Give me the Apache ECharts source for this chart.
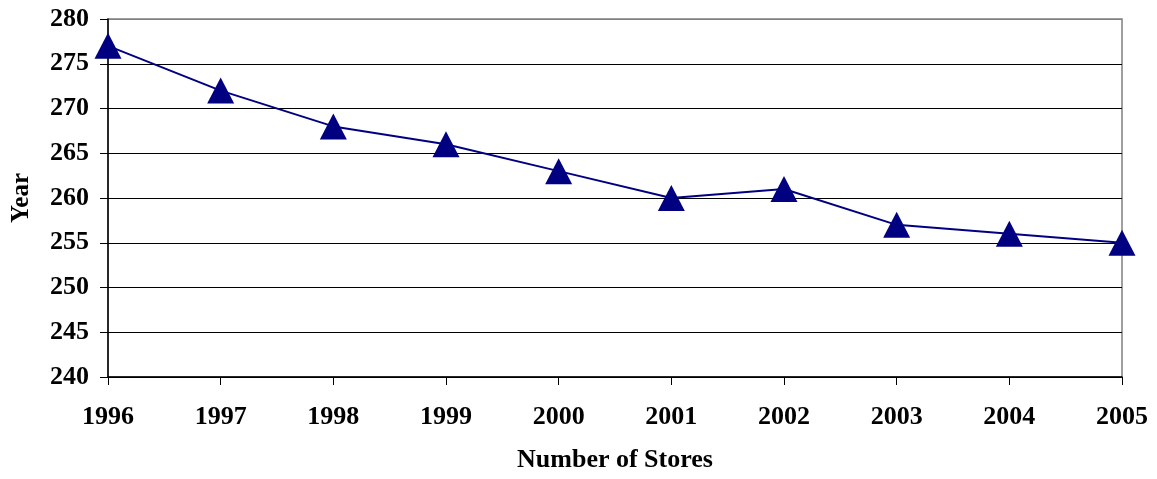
<!DOCTYPE html>
<html>
<head>
<meta charset="utf-8">
<script src="https://cdn.jsdelivr.net/npm/echarts@6/dist/echarts.min.js"></script>
<style>
  html, body { margin: 0; padding: 0; background: #fff; }
  #chart { width: 1157px; height: 479px; }
</style>
</head>
<body>
<div id="chart"></div>
<script>
const years = ['1996', '1997', '1998', '1999', '2000', '2001', '2002', '2003', '2004', '2005'];
const stores = [277, 272, 268, 266, 263, 260, 261, 257, 256, 255];

const font = 'Liberation Serif, Times New Roman, serif';
const chart = echarts.init(document.getElementById('chart'));

// gridlines are black, the top one (280) is the grey plot border
const splitColors = ['#000', '#000', '#000', '#000', '#000', '#000', '#000', '#000', '#808080'];

chart.setOption({
  animation: false,
  backgroundColor: '#fff',
  grid: {
    left: 108,
    right: 35,
    top: 19,
    bottom: 102,
    outerBoundsMode: 'none',
    containLabel: false,
    show: true,
    borderColor: '#808080',
    borderWidth: 1.5,
  },
  xAxis: {
    type: 'category',
    data: years,
    boundaryGap: false,
    name: 'Number of Stores',
    nameLocation: 'middle',
    nameGap: 70,
    nameTextStyle: { fontFamily: font, fontWeight: 'bold', fontSize: 26, color: '#000' },
    axisLine: { lineStyle: { color: '#000', width: 1.5 } },
    axisTick: { show: true, length: 8, lineStyle: { color: '#000' }, alignWithLabel: true },
    axisLabel: {
      fontFamily: font, fontWeight: 'bold', fontSize: 26, color: '#000', margin: 27,
    },
    splitLine: { show: false },
  },
  yAxis: {
    type: 'value',
    min: 240,
    max: 280,
    interval: 5,
    name: 'Year',
    nameLocation: 'middle',
    nameGap: 74,
    nameRotate: 90,
    nameTextStyle: { fontFamily: font, fontWeight: 'bold', fontSize: 25, color: '#000' },
    axisLine: { show: true, lineStyle: { color: '#000', width: 1.5 } },
    axisTick: { show: true, length: 8, lineStyle: { color: '#000' } },
    axisLabel: {
      fontFamily: font, fontWeight: 'bold', fontSize: 26, color: '#000', margin: 19,
    },
    splitLine: { show: true, lineStyle: { color: splitColors, width: 1 } },
  },
  series: [
    {
      type: 'line',
      data: stores,
      symbol: 'triangle',
      symbolSize: [27, 26],
      itemStyle: { color: '#000080' },
      lineStyle: { color: '#000080', width: 2 },
    },
  ],
});
</script>
</body>
</html>
